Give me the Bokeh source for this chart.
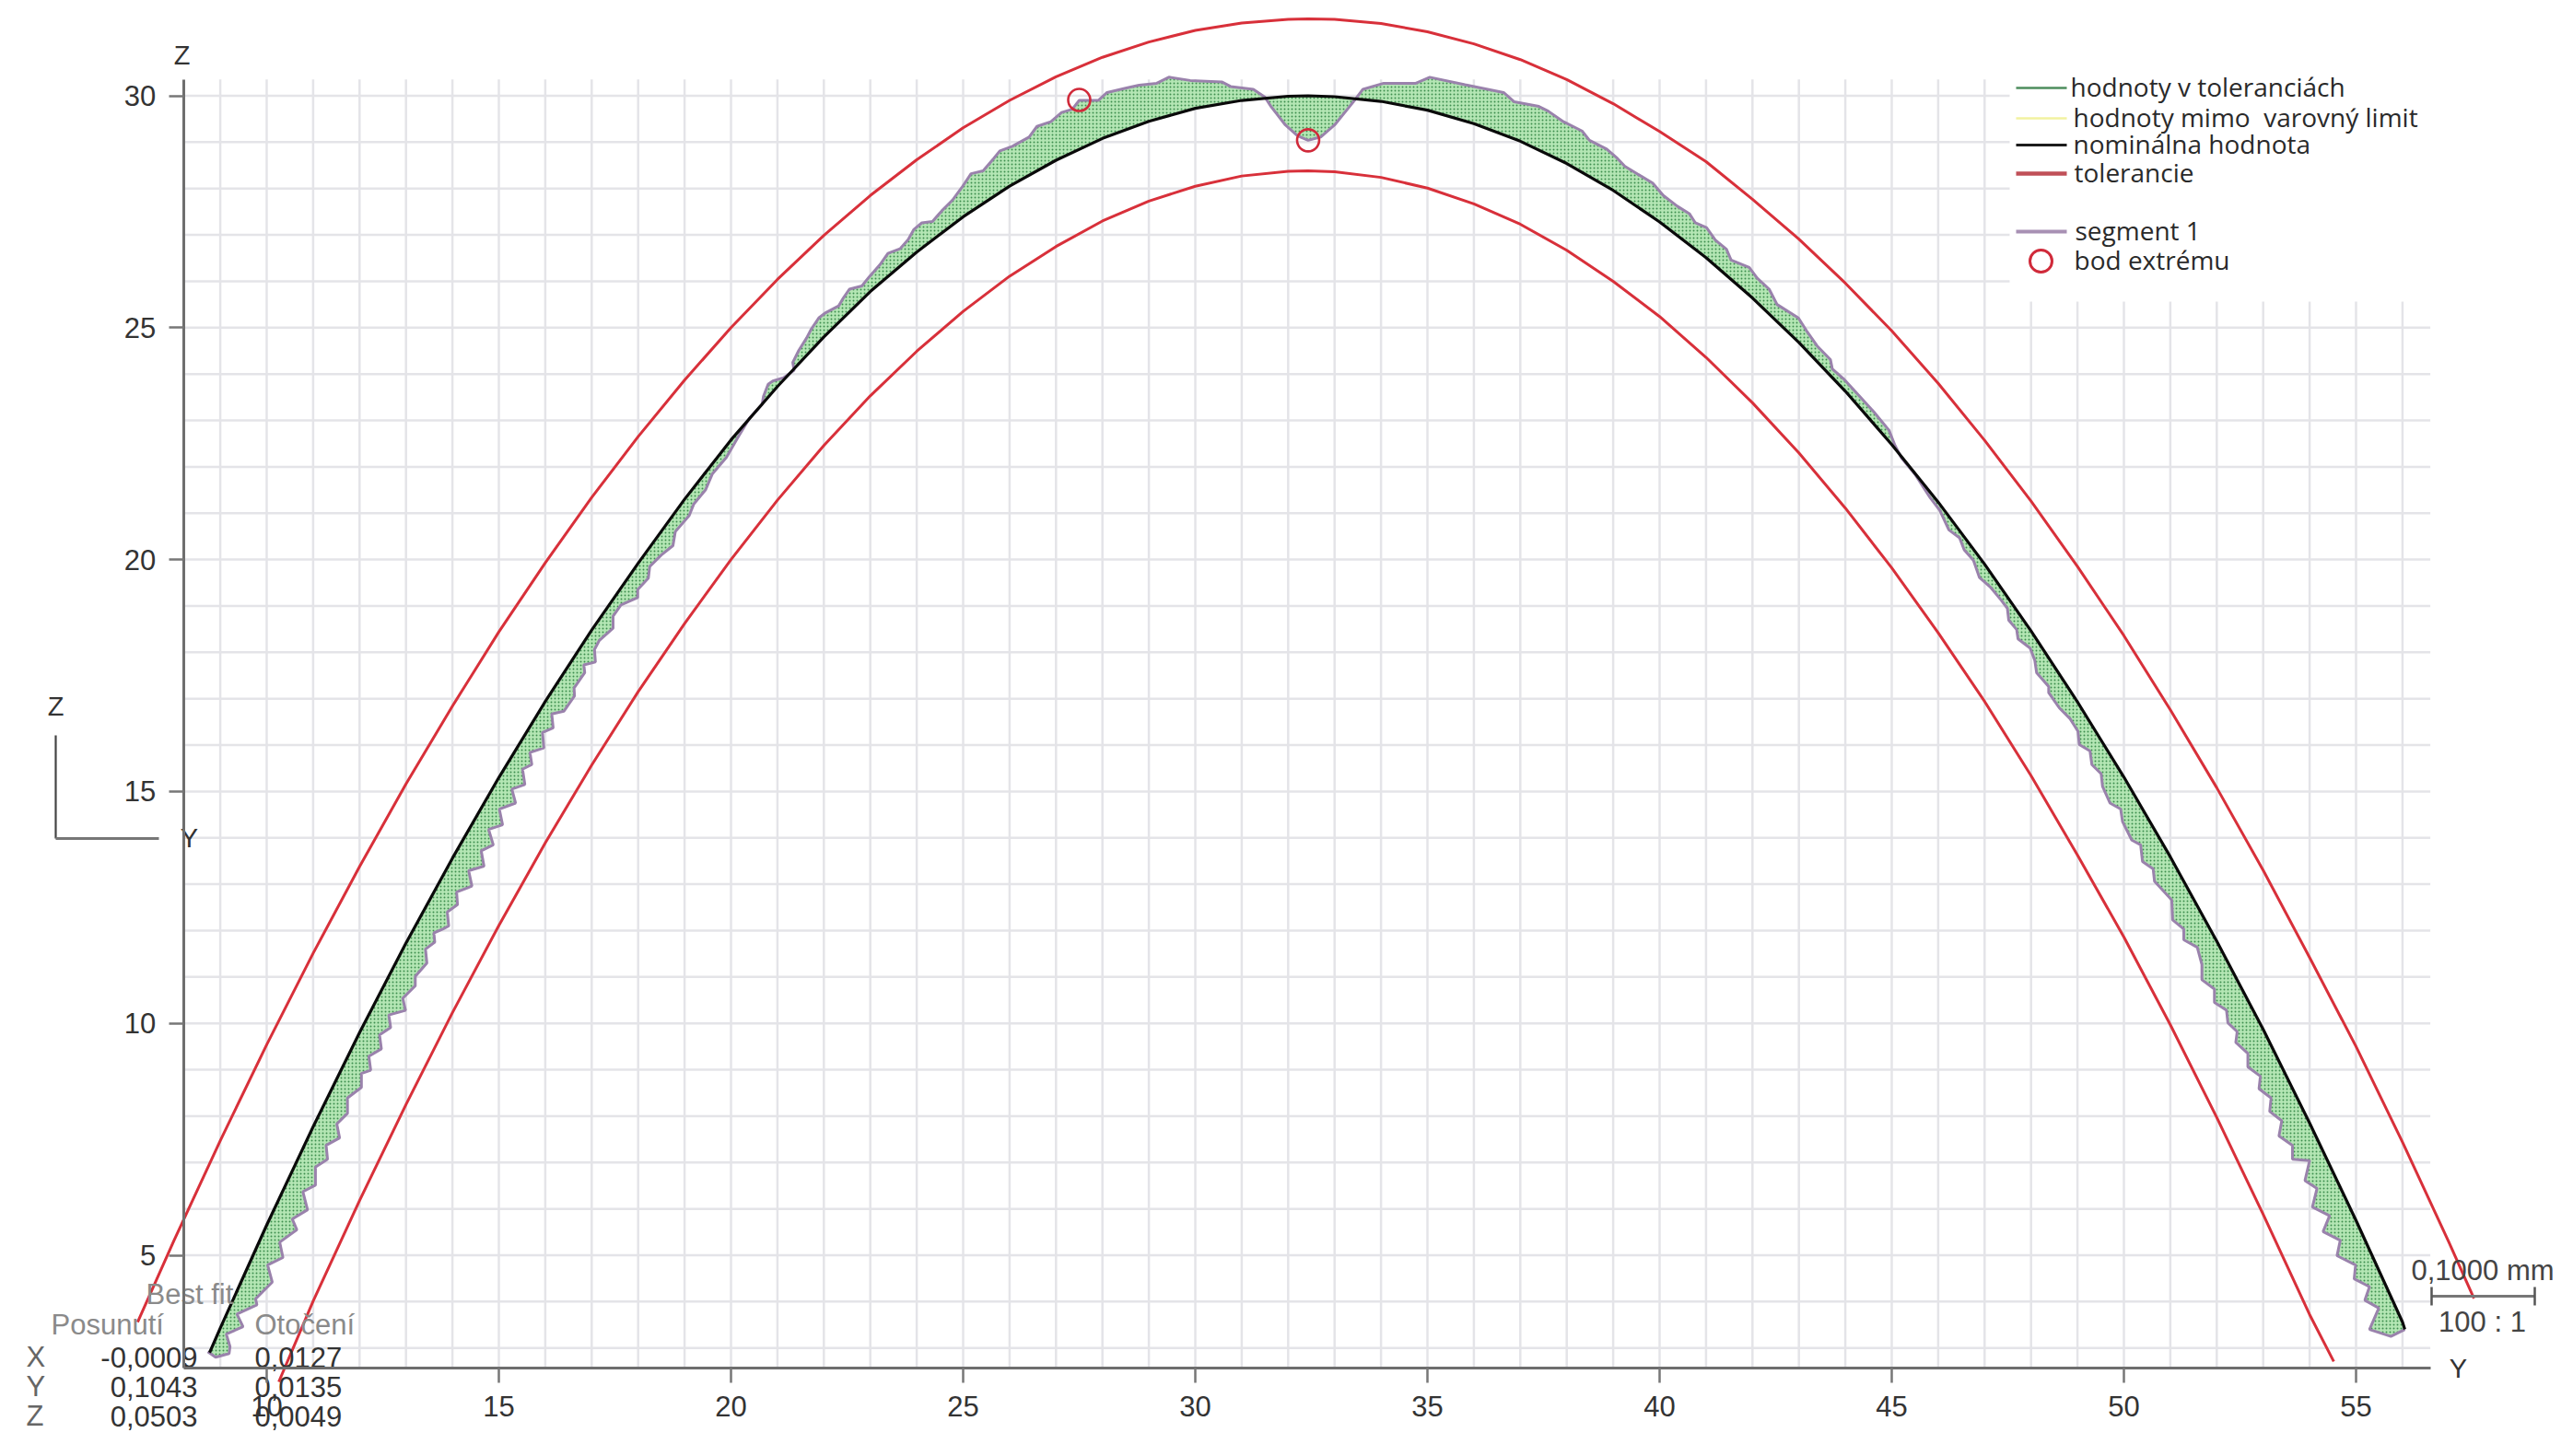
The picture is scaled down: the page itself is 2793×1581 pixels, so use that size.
from bokeh.plotting import figure
from bokeh.models import Range1d, FixedTicker
from bokeh.core.properties import value
from bokeh.embed import file_html
from bokeh.resources import INLINE

# ---- data ----
x_ticks = [10, 15, 20, 25, 30, 35, 40, 45, 50, 55]
z_ticks = [5, 10, 15, 20, 25, 30]
grid_y = list(range(9, 57))
grid_z = list(range(3, 31))
axis_y_span = [8.21, 56.6]
axis_z_span = [2.56, 30.35]

nominal_y = [8.77, 9, 10, 11, 12, 13, 14, 15, 16, 17, 18, 19, 20, 21, 22, 23, 24, 25, 26, 27, 28, 29, 30, 31, 32, 32.43,
             33, 34, 35, 36, 37, 38, 39, 40, 41, 42, 43, 44, 45, 46, 47, 48, 49, 50, 51, 52, 53, 54, 55, 56, 56.05]
nominal_z = [2.9, 3.43, 5.65, 7.77, 9.8, 11.73, 13.56, 15.3, 16.94, 18.48, 19.92, 21.3, 22.58, 23.73, 24.8, 25.78,
             26.63, 27.39, 28.05, 28.61, 29.08, 29.45, 29.73, 29.9, 29.99, 30.0,
             29.98, 29.88, 29.69, 29.4, 29.02, 28.54, 27.96, 27.28, 26.51, 25.64, 24.68, 23.63, 22.48, 21.24, 19.9,
             18.46, 16.93, 15.31, 13.59, 11.77, 9.87, 7.85, 5.75, 3.56, 3.40]

upper_y = [7.22, 8, 9, 10, 11, 12, 13, 14, 15, 16, 17, 18, 19, 20, 21, 22, 23, 24, 25, 26, 27, 28, 29, 30, 31, 32, 32.43,
           33, 34, 35, 36, 37, 38, 39, 40, 41, 42, 43, 44, 45, 46, 47, 48, 49, 50, 51, 52, 53, 54, 55, 56, 57, 57.54]
upper_z = [3.56, 5.31, 7.47, 9.54, 11.51, 13.38, 15.16, 16.84, 18.44, 19.93, 21.34, 22.65, 23.87, 25.0, 26.04, 26.99,
           27.85, 28.62, 29.31, 29.9, 30.41, 30.83, 31.16, 31.41, 31.57, 31.65, 31.66,
           31.65, 31.56, 31.38, 31.12, 30.78, 30.35, 29.83, 29.23, 28.58, 27.77, 26.91, 25.96, 24.93, 23.8, 22.57,
           21.26, 19.85, 18.36, 16.76, 15.08, 13.3, 11.42, 9.5, 7.44, 5.28, 4.07]

lower_y = [10.26, 11, 12, 13, 14, 15, 16, 17, 18, 19, 20, 21, 22, 23, 24, 25, 26, 27, 28, 29, 30, 31, 32, 32.43,
           33, 34, 35, 36, 37, 38, 39, 40, 41, 42, 43, 44, 45, 46, 47, 48, 49, 50, 51, 52, 53, 54, 54.52]
lower_z = [2.27, 4.01, 6.18, 8.25, 10.23, 12.11, 13.89, 15.57, 17.15, 18.62, 20.0, 21.28, 22.46, 23.53, 24.49, 25.35,
           26.11, 26.75, 27.3, 27.73, 28.05, 28.27, 28.37, 28.38,
           28.36, 28.24, 28.01, 27.67, 27.23, 26.67, 26.0, 25.24, 24.36, 23.38, 22.3, 21.11, 19.82, 18.42, 16.94,
           15.34, 13.63, 11.86, 9.97, 7.97, 5.88, 3.72, 2.71]

segment_y = [8.73, 8.90, 9.19, 9.21, 9.13, 9.49, 9.36, 9.79, 9.76, 10.12, 10.02, 10.35, 10.28, 10.65, 10.55, 10.88,
             10.78, 11.05, 11.05, 11.31, 11.28, 11.57, 11.51, 11.74, 11.74, 12.04, 12.04, 12.24, 12.20, 12.47, 12.43,
             12.67, 12.63, 12.99, 12.93, 13.20, 13.20, 13.45, 13.42, 13.62, 13.60, 13.79, 13.92, 13.89, 14.11, 14.09,
             14.42, 14.35, 14.68, 14.62, 14.88, 14.78, 15.08, 15.01, 15.36, 15.28, 15.56, 15.51, 15.71, 15.67, 15.97,
             15.94, 16.17, 16.14, 16.40, 16.63, 16.62, 16.85, 16.83, 17.08, 17.06, 17.16, 17.46, 17.46, 17.63, 17.99,
             17.99, 18.22, 18.25, 18.5, 18.75, 18.8, 19.1, 19.2, 19.45, 19.6, 19.9,
             20.14, 20.40, 20.67, 20.70, 20.80, 20.90, 21.13, 21.36, 21.33, 21.46, 21.63, 21.73, 21.89, 22.02, 22.32,
             22.42, 22.55, 22.82, 22.98, 23.21, 23.38, 23.64, 23.81, 23.94, 24.11, 24.34, 24.54, 24.77, 24.97, 25.17,
             25.43, 25.66, 25.79, 26.06, 26.42, 26.59, 26.89, 27.12, 27.35, 27.5, 27.91, 28.10, 28.52, 28.79, 29.17,
             29.43, 29.89, 30.57, 30.76, 31.25, 31.50, 31.63, 31.94, 32.20, 32.43, 32.70, 33.0, 33.30, 33.46, 33.61,
             34.06, 34.75, 35.05, 35.81, 36.64, 36.87, 37.40, 37.6, 37.93, 38.33, 38.49, 38.86, 39.09, 39.25, 39.58,
             39.85, 40.08, 40.38, 40.64, 40.77, 41.01, 41.20, 41.44, 41.54, 41.93, 42.10, 42.36, 42.53, 42.99, 43.16,
             43.39, 43.68, 43.72, 43.98, 44.28, 44.61, 44.94, 45.07, 45.21, 45.5, 45.83, 46.03, 46.23, 46.46, 46.56,
             46.76, 46.89, 47.12, 47.36, 47.49, 47.52, 47.69, 47.72, 47.98, 48.08, 48.12, 48.38, 48.38, 48.61, 48.84,
             49.01, 49.04, 49.27, 49.31, 49.51, 49.54, 49.70, 49.93, 49.97, 50.17, 50.36, 50.40, 50.63, 50.66, 51.03,
             51.05, 51.29, 51.29, 51.58, 51.68, 51.68, 51.95, 51.95, 52.21, 52.24, 52.44, 52.41, 52.67, 52.67, 52.94,
             52.91, 53.17, 53.14, 53.40, 53.34, 53.63, 53.63, 54.0, 53.90, 54.16, 54.06, 54.43, 54.29, 54.66, 54.59,
             54.99, 54.96, 55.29, 55.19, 55.49, 55.29, 55.75, 56.05]
segment_z = [2.92, 2.80, 2.88, 3.03, 3.30, 3.46, 3.73, 3.93, 4.06, 4.42, 4.79, 4.95, 5.28, 5.55, 5.78, 5.98,
             6.37, 6.51, 6.90, 7.07, 7.37, 7.53, 7.83, 8.06, 8.39, 8.62, 8.92, 8.99, 9.29, 9.45, 9.75,
             9.91, 10.18, 10.28, 10.54, 10.81, 11.01, 11.30, 11.60, 11.75, 11.95, 12.03, 12.10, 12.40, 12.56, 12.83,
             12.96, 13.29, 13.39, 13.72, 13.85, 14.18, 14.28, 14.62, 14.75, 15.05, 15.15, 15.48, 15.58, 15.84, 15.94,
             16.27, 16.37, 16.67, 16.73, 17.06, 17.23, 17.56, 17.73, 17.79, 18.06, 18.25, 18.52, 18.78, 19.02, 19.18,
             19.35, 19.6, 19.85, 20.1, 20.3, 20.6, 20.95, 21.2, 21.5, 21.85, 22.2,
             22.62, 23.05, 23.35, 23.52, 23.78, 23.85, 23.92, 24.08, 24.25, 24.51, 24.78, 24.97, 25.21, 25.31, 25.47,
             25.64, 25.83, 25.90, 26.10, 26.36, 26.60, 26.70, 26.89, 27.12, 27.26, 27.29, 27.52, 27.75, 28.02, 28.32,
             28.38, 28.65, 28.81, 28.91, 29.11, 29.34, 29.44, 29.64, 29.71, 29.90, 29.90, 30.07, 30.17, 30.23, 30.27,
             30.40, 30.33, 30.30, 30.20, 30.14, 29.97, 29.77, 29.37, 29.14, 29.04, 29.11, 29.37, 29.74, 29.94, 30.14,
             30.27, 30.27, 30.40, 30.24, 30.07, 29.87, 29.77, 29.67, 29.44, 29.24, 29.04, 28.85, 28.65, 28.48, 28.28,
             28.12, 27.85, 27.62, 27.46, 27.26, 27.16, 26.89, 26.69, 26.46, 26.30, 26.07, 25.83, 25.50, 25.21, 24.94,
             24.61, 24.31, 24.11, 23.88, 23.55, 23.19, 22.79, 22.46, 22.19, 21.84, 21.33, 21.07, 20.64, 20.47, 20.21,
             19.98, 19.61, 19.41, 19.12, 18.95, 18.69, 18.49, 18.29, 18.09, 17.83, 17.56, 17.26, 17.13, 16.80, 16.57,
             16.30, 16.01, 15.87, 15.58, 15.38, 15.11, 14.75, 14.62, 14.35, 13.95, 13.85, 13.49, 13.33, 13.06, 12.66,
             12.23, 12.03, 11.80, 11.64, 11.27, 10.94, 10.74, 10.45, 10.28, 10.01, 9.82, 9.59, 9.35, 9.06, 8.86,
             8.59, 8.39, 8.10, 7.90, 7.57, 7.37, 7.07, 7.04, 6.61, 6.44, 6.04, 5.85, 5.51, 5.32, 4.99,
             4.79, 4.49, 4.32, 4.03, 3.86, 3.40, 3.25, 3.40]

extreme_y = [27.5, 32.43]
extreme_z = [29.91, 29.04]

legend_labels = ["hodnoty v toleranciách", "hodnoty mimo\u00a0 varovný limit", "nominálna hodnota", "tolerancie",
                 "segment 1", "bod extrému"]
fit_rows = ["X", "Y", "Z"]
fit_shift = ["-0,0009", "0,1043", "0,0503"]
fit_rot = ["0,0127", "0,0135", "0,0049"]

# ---- page pixel -> data helpers (for furniture only) ----
W, H = 2785, 1573
def X(px): return 10 + (px - 289) / 50.4
def Z(py): return 30 - (py - 103.5) / 50.36

p = figure(width=W, height=H, output_backend="svg", toolbar_location=None,
           x_range=Range1d(X(0), X(W)), y_range=Range1d(Z(H), Z(0)),
           min_border=0, min_border_left=0, min_border_right=0, min_border_top=0, min_border_bottom=0,
           outline_line_color=None, background_fill_color="white", border_fill_color="white")
p.grid.visible = False

FONT = value("Liberation Sans")
LEG = value("Open Sans")

def txt(px, py, s, size=31, color="#333333", align="left", font=FONT):
    p.text(x=[X(px)], y=[Z(py)], text=[s], text_font=font, text_font_size=f"{size}px",
           text_color=color, text_align=align, text_baseline="middle")

# grid
GC = "#e4e4e8"
p.segment(x0=grid_y, x1=grid_y, y0=[axis_z_span[0]] * len(grid_y), y1=[axis_z_span[1]] * len(grid_y),
          line_color=GC, line_width=2.5)
p.segment(x0=[axis_y_span[0]] * len(grid_z), x1=[axis_y_span[1]] * len(grid_z), y0=grid_z, y1=grid_z,
          line_color=GC, line_width=2.5)

# axes
for ax, ticks, span in ((p.xaxis[0], x_ticks, axis_y_span), (p.yaxis[0], z_ticks, axis_z_span)):
    ax.ticker = FixedTicker(ticks=ticks)
    ax.bounds = tuple(span)
    ax.axis_line_color = "#6e6e6e"
    ax.axis_line_width = 3
    ax.major_tick_line_color = "#777777"
    ax.major_tick_line_width = 2.5
    ax.major_tick_out = 16
    ax.major_tick_in = 0
    ax.minor_tick_line_color = None
    ax.major_label_text_font = "Liberation Sans"
    ax.major_label_text_font_size = "31px"
    ax.major_label_text_color = "#333333"
    ax.major_label_standoff = 14
p.xaxis[0].fixed_location = axis_z_span[0]
p.yaxis[0].fixed_location = axis_y_span[0]

# deviation band
p.patch(segment_y + nominal_y[::-1], segment_z + nominal_z[::-1], fill_color="#b4e6b4", line_color=None,
        hatch_pattern="dot", hatch_color="#3f8f4f", hatch_scale=4, hatch_weight=1.0)
p.line(upper_y, upper_z, line_color="#d8303a", line_width=3)
p.line(lower_y, lower_z, line_color="#d8303a", line_width=3)
p.line(segment_y, segment_z, line_color="#9a82ac", line_width=3)
p.line(nominal_y, nominal_z, line_color="#0a0a0a", line_width=3.2)
p.scatter(extreme_y, extreme_z, marker="circle", size=24, fill_color=None, line_color="#d02a3a", line_width=2.6)

# legend panel
p.quad(left=[X(2181)], right=[X(W)], bottom=[Z(327)], top=[Z(0)], fill_color="white", line_color=None)
rows = [(95, 2247, "#4d8d5d", 2.5), (128, 2250, "#f2f2a0", 2.5), (157, 2250, "#1c1c1c", 3),
        (188, 2251, "#c05058", 4.5), (251, 2252, "#a890b4", 4), (283, 2251, None, 0)]
for (py, tx, col, lw), lab in zip(rows, legend_labels):
    if col:
        p.line([X(2188), X(2243)], [Z(py), Z(py)], line_color=col, line_width=lw)
    txt(tx, py - 2, lab, size=28, color="#2a2a2a", font=LEG)
p.scatter([X(2215)], [Z(283)], marker="circle", size=24, fill_color=None, line_color="#d02a3a", line_width=3)

# axis names
txt(197, 59, "Z", size=29, align="center")
txt(2668, 1485, "Y", size=29, align="center")

# orientation icon
p.line([X(60), X(60)], [Z(798), Z(910)], line_color="#444444", line_width=2.2)
p.line([X(60), X(172)], [Z(910), Z(910)], line_color="#777777", line_width=3)
txt(60, 766, "Z", size=29, align="center")
txt(205, 909, "Y", size=29, align="center")

# best fit block
txt(158, 1405, "Best fit", size=31, color="#8a8a8a")
txt(55, 1438, "Posunutí", size=31, color="#8a8a8a")
txt(276, 1438, "Otočení", size=31, color="#8a8a8a")
for py, r, a, b in zip((1473, 1505, 1537), fit_rows, fit_shift, fit_rot):
    txt(28, py, r, color="#666666")
    txt(214, py, a, align="right")
    txt(276, py, b)

# scale bar
p.line([X(2639), X(2751)], [Z(1407), Z(1407)], line_color="#777777", line_width=3)
p.line([X(2639), X(2639)], [Z(1397), Z(1417)], line_color="#555555", line_width=2.5)
p.line([X(2751), X(2751)], [Z(1397), Z(1417)], line_color="#555555", line_width=2.5)
txt(2617, 1379, "0,1000 mm", color="#444444")
txt(2694, 1435, "100 : 1", color="#444444", align="center")

open("out.html", "w").write(file_html(p, INLINE))
